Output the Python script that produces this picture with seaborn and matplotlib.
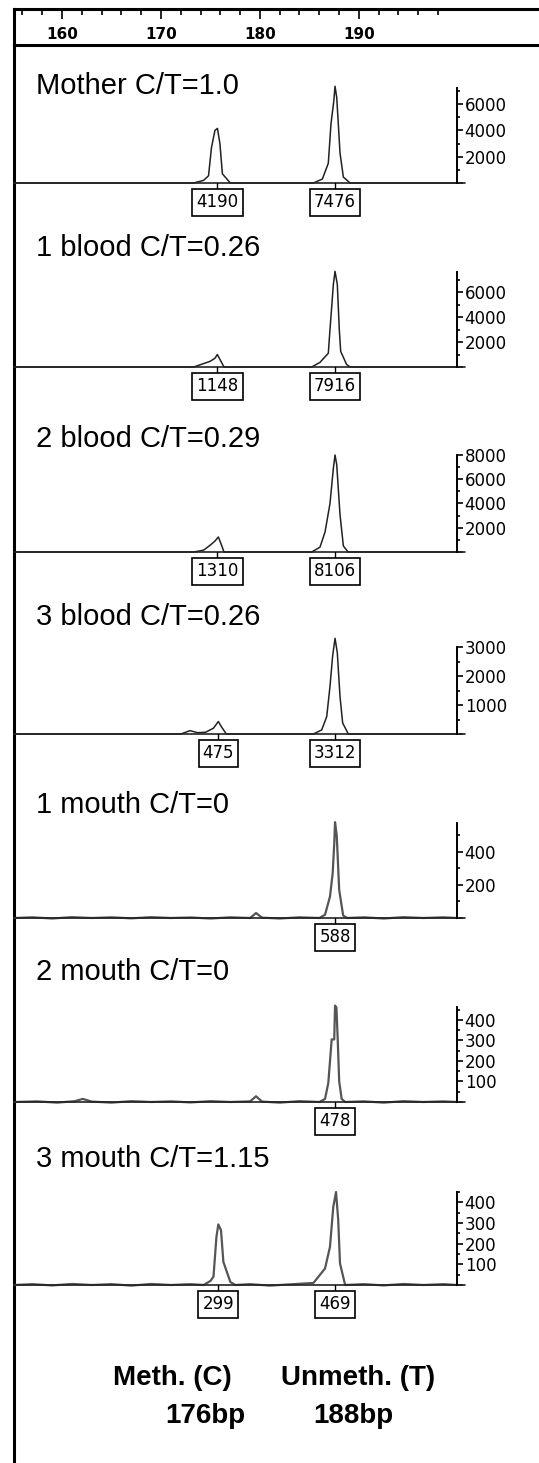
import pandas as pd
import seaborn as sns
import matplotlib.pyplot as plt
from matplotlib.ticker import FixedLocator, MultipleLocator

sns.set_theme(style="white")
plt.rcParams['font.family'] = ['DejaVu Sans']
plt.rcParams['text.color'] = 'black'
plt.rcParams['xtick.color'] = 'black'
plt.rcParams['ytick.color'] = 'black'

# panel titles
titles = ["Mother C/T=1.0", "1 blood C/T=0.26", "2 blood C/T=0.29", "3 blood C/T=0.26",
          "1 mouth C/T=0", "2 mouth C/T=0", "3 mouth C/T=1.15"]

# traces: fragment size (bp) and signal
m_bp = [155.2, 173.3, 174.3, 174.8, 175.1, 175.45, 175.7, 175.95, 176.2, 177.0,
        185.4, 186.3, 186.9, 187.17, 187.45, 187.58, 187.75, 187.91, 188.08, 188.42, 189.1, 199.9]
m_sig = [0, 0, 200, 550, 2700, 4000, 4150, 3000, 700, 0,
         0, 300, 1500, 4500, 6200, 7350, 6500, 4500, 2300, 450, 0, 0]

b1_bp = [155.2, 173.3, 174.95, 175.45, 175.69, 175.96, 176.36,
         185.22, 186.06, 186.9, 187.07, 187.41, 187.58, 187.81, 188.01, 188.15, 188.75, 189.1, 199.9]
b1_sig = [0, 0, 450, 700, 1000, 600, 0,
          0, 370, 1100, 3000, 6600, 7650, 6600, 3000, 1250, 200, 0, 0]

b2_bp = [155.2, 173.3, 174.3, 174.95, 175.45, 175.79, 176.1, 176.36,
         185.22, 186.06, 186.57, 187.07, 187.41, 187.58, 187.75, 188.08, 188.42, 188.9, 199.9]
b2_sig = [0, 0, 150, 550, 900, 1240, 600, 0,
          0, 400, 1650, 4000, 6900, 8000, 7200, 3100, 500, 0, 0]

b3_bp = [155.2, 172.0, 172.93, 173.7, 174.5, 175.3, 175.79, 176.1, 176.6,
         185.39, 186.23, 186.74, 187.07, 187.34, 187.58, 187.81, 188.08, 188.35, 188.92, 199.9]
b3_sig = [0, 0, 115, 45, 60, 200, 430, 250, 0,
          0, 140, 600, 1640, 2700, 3300, 2800, 1300, 380, 0, 0]

o1_bp = [155.2, 157.0, 159.0, 161.0, 163.0, 165.0, 167.0, 169.0, 171.0, 173.0, 175.0, 177.0,
         179.0, 179.6, 180.2, 182.0, 184.0, 186.0, 186.57, 187.07, 187.34, 187.5, 187.58,
         187.75, 188.0, 188.4, 188.8, 190.5, 192.5, 194.5, 196.5, 198.5, 199.9]
o1_sig = [0, 4, -3, 5, 0, 4, -2, 5, 0, 3, -3, 4,
          0, 30, 2, -3, 4, 0, 20, 130, 270, 450, 580,
          500, 170, 15, 0, 4, -3, 5, 0, 4, 0]

o2_bp = [155.2, 157.5, 159.5, 161.3, 162.1, 163.0, 165.0, 167.0, 169.0, 171.0, 173.0, 175.0,
         177.0, 179.0, 179.6, 180.2, 182.0, 184.0, 186.0, 186.57, 186.9, 187.24, 187.5, 187.58,
         187.72, 187.85, 188.0, 188.25, 188.6, 190.5, 192.5, 194.5, 196.5, 198.5, 199.9]
o2_sig = [0, 3, -3, 4, 15, 2, -3, 4, 0, 3, -2, 4,
          0, 3, 28, 2, -3, 4, 0, 15, 93, 305, 305, 470,
          460, 305, 100, 15, 0, 3, -3, 4, 0, 3, 0]

o3_bp = [155.2, 157.0, 159.0, 161.0, 163.0, 165.0, 167.0, 169.0, 171.0, 173.0, 174.3, 175.0,
         175.3, 175.6, 175.79, 176.06, 176.3, 177.0, 177.5, 179.0, 181.0, 183.0, 185.4, 186.57,
         187.07, 187.4, 187.68, 187.9, 188.08, 188.6, 190.5, 192.5, 194.5, 196.5, 198.5, 199.9]
o3_sig = [0, 4, -2, 5, 0, 4, -3, 5, 0, 4, 0, 20,
          40, 233, 293, 265, 112, 15, 0, 4, -3, 3, 10, 80,
          185, 377, 450, 315, 105, 0, 4, -2, 5, 0, 4, 0]

# peak calls: position (bp) and boxed value
m_pk, m_lab = [175.7, 187.58], [4190, 7476]
b1_pk, b1_lab = [175.7, 187.58], [1148, 7916]
b2_pk, b2_lab = [175.7, 187.58], [1310, 8106]
b3_pk, b3_lab = [175.8, 187.58], [475, 3312]
o1_pk, o1_lab = [187.58], [588]
o2_pk, o2_lab = [187.58], [478]
o3_pk, o3_lab = [175.8, 187.6], [299, 469]

# y axis range and labelled tick step per panel
y_max = [7220, 7600, 8000, 3000, 575, 463, 450]
y_step = [2000, 2000, 2000, 1000, 200, 100, 100]

# ruler ticks
ruler_major = [160, 170, 180, 190]
ruler_minor = [156, 158, 162, 164, 166, 168, 172, 174, 176, 178,
               182, 184, 186, 188, 192, 194, 196, 198]

traces = [(m_bp, m_sig), (b1_bp, b1_sig), (b2_bp, b2_sig), (b3_bp, b3_sig),
          (o1_bp, o1_sig), (o2_bp, o2_sig), (o3_bp, o3_sig)]
peaks = [(m_pk, m_lab), (b1_pk, b1_lab), (b2_pk, b2_lab), (b3_pk, b3_lab),
         (o1_pk, o1_lab), (o2_pk, o2_lab), (o3_pk, o3_lab)]

# layout in pixels
W, H = 539, 1463
base_px = [183, 367, 552, 734, 918, 1102, 1285]
top_px = [88, 272, 455, 647, 823, 1007, 1192]
title_px = [94, 256, 447, 625, 813, 980, 1167]
x_lo, x_hi = 155.15, 199.9
sans = ["Liberation Sans", "DejaVu Sans"]

fig = plt.figure(figsize=(W / 100, H / 100), dpi=100)

# outer frame (left line running down the page)
frame = fig.add_axes([14 / W, 0, 525 / W, 1 - 45 / H], zorder=0)
frame.set_xticks([])
frame.set_yticks([])
for side in ["top", "right", "bottom"]:
    frame.spines[side].set_visible(False)
frame.spines["left"].set_linewidth(2.2)
frame.spines["left"].set_color("black")

# size ruler
ruler = fig.add_axes([14 / W, 1 - 45 / H, 525 / W, 36 / H])
ruler.set_xlim(x_lo, x_lo + 525 / 9.896)
ruler.set_ylim(0, 1)
ruler.set_yticks([])
ruler.spines["right"].set_visible(False)
for side in ["top", "left", "bottom"]:
    ruler.spines[side].set_linewidth(2.2)
    ruler.spines[side].set_color("black")
ruler.xaxis.tick_top()
ruler.xaxis.set_major_locator(FixedLocator(ruler_major))
ruler.xaxis.set_minor_locator(FixedLocator(ruler_minor))
ruler.tick_params(axis="x", which="major", direction="in", length=7, width=1.2,
                  pad=-24, labelsize=11, colors="black")
ruler.tick_params(axis="x", which="minor", direction="in", length=4.5, width=1.2)
for lab in ruler.get_xticklabels():
    lab.set_fontweight("bold")

for i in range(7):
    b, t = base_px[i], top_px[i]
    ax = fig.add_axes([14 / W, 1 - b / H, 443 / W, (b - t) / H])
    bp, sig = traces[i]
    df = pd.DataFrame({"bp": bp, "signal": sig})
    mouth = i >= 4
    sns.lineplot(data=df, x="bp", y="signal", ax=ax, color="#555555" if mouth else "#222222",
                 linewidth=1.6 if mouth else 1.1, sort=True, estimator=None)
    ax.set_xlim(x_lo, x_hi)
    ax.set_ylim(0, y_max[i])
    ax.set_xlabel("")
    ax.set_ylabel("")
    ax.set_xticks([])
    for line in ax.lines:
        line.set_clip_on(False)
    for side in ["top", "left", "bottom"]:
        ax.spines[side].set_visible(False)
    ax.spines["right"].set_color("black")
    ax.spines["right"].set_linewidth(1.4)
    ax.patch.set_alpha(0)
    ax.yaxis.tick_right()
    step = y_step[i]
    ticks = list(range(0, int(y_max[i]) + 1, step))
    ax.yaxis.set_major_locator(FixedLocator(ticks))
    ax.set_yticklabels([""] + [str(v) for v in ticks[1:]])
    ax.yaxis.set_minor_locator(MultipleLocator(step / 2))
    ax.tick_params(axis="y", which="major", direction="out", length=4, width=1.2,
                   pad=1.5, labelsize=12, colors="black")
    ax.tick_params(axis="y", which="minor", direction="out", length=2.5, width=1.2)
    ax.axhline(0, xmin=0, xmax=1.018, color="#222222", lw=1.2, clip_on=False)

    pk, lab = peaks[i]
    for p, v in zip(pk, lab):
        ax.axvline(p, ymin=-0.07, ymax=0, color="black", lw=1, clip_on=False)
        ax.annotate(str(v), xy=(p, 0), xytext=(0, -14), textcoords="offset points",
                    ha="center", va="center", fontsize=12, color="black",
                    annotation_clip=False,
                    bbox=dict(boxstyle="square,pad=0.25", fc="white", ec="black", lw=1.2))

    fig.text(36 / W, 1 - title_px[i] / H, titles[i], fontsize=21, va="baseline",
             ha="left", color="black", family=sans)

# bottom legend text
fig.text(172 / W, 1 - 1385 / H, "Meth. (C)", fontsize=20, weight="bold", ha="center",
         va="baseline", color="black", family=sans)
fig.text(358 / W, 1 - 1385 / H, "Unmeth. (T)", fontsize=20, weight="bold", ha="center",
         va="baseline", color="black", family=sans)
fig.text(205 / W, 1 - 1423 / H, "176bp", fontsize=20, weight="bold", ha="center",
         va="baseline", color="black", family=sans)
fig.text(353 / W, 1 - 1423 / H, "188bp", fontsize=20, weight="bold", ha="center",
         va="baseline", color="black", family=sans)

fig.savefig("out.png", dpi=100, facecolor="white")
